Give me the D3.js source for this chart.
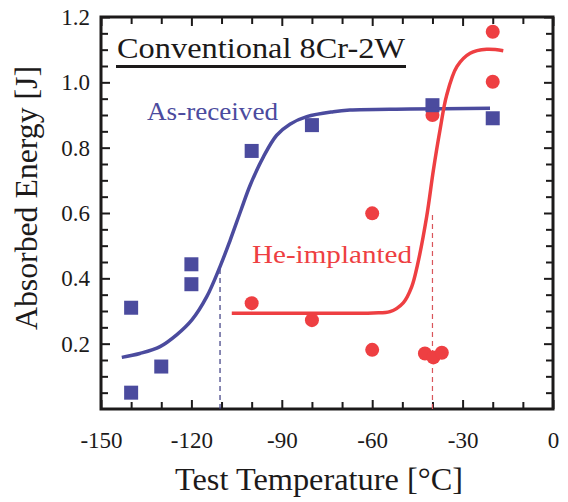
<!DOCTYPE html>
<html>
<head>
<meta charset="utf-8">
<script src="https://cdn.jsdelivr.net/npm/d3@7"></script>
<style>
  html, body { margin: 0; padding: 0; background: #fff; }
  svg { display: block; }
  text { font-family: "Liberation Serif", "Times New Roman", serif; }
</style>
</head>
<body>
<svg id="chart" width="568" height="502"></svg>
<script>
// ---- data ----
const xTickValues = [-150, -140, -130, -120, -110, -100, -90, -80, -70, -60, -50, -40, -30, -20, -10, 0];
const xTickLabels = [-150, -120, -90, -60, -30, 0];
const yTickValues = [0.05, 0.1, 0.15, 0.2, 0.25, 0.3, 0.35, 0.4, 0.45, 0.5, 0.55, 0.6, 0.65, 0.7, 0.75, 0.8, 0.85, 0.9, 0.95, 1.0, 1.05, 1.1, 1.15, 1.2];
const yTickLabels = [0.2, 0.4, 0.6, 0.8, 1.0, 1.2];

// As-received (squares)
const asReceivedTemp   = [-140, -140, -130, -120, -120, -100, -80, -40, -20];
const asReceivedEnergy = [0.31, 0.05, 0.13, 0.443, 0.382, 0.79, 0.869, 0.93, 0.89];

// He-implanted (circles)
const heTemp   = [-100, -80, -60, -60, -42.5, -39.7, -36.9, -40, -20, -20];
const heEnergy = [0.324, 0.272, 0.181, 0.599, 0.170, 0.158, 0.172, 0.90, 1.155, 1.002];

// Fitted curves
const asReceivedCurveT = [-143.1, -137.1, -130.4, -124.9, -119.9, -114.9, -110.5, -107.2, -103.5, -100.5, -96.1, -91.7, -87.3, -81.7, -72.9, -67.4, -47.4, -20.9];
const asReceivedCurveE = [0.158, 0.170, 0.191, 0.227, 0.272, 0.344, 0.436, 0.515, 0.61, 0.685, 0.772, 0.838, 0.872, 0.895, 0.910, 0.915, 0.918, 0.921];
const heCurveT = [-106.6, -80, -59.7, -54.1, -49.7, -46.9, -45.0, -41.9, -39.7, -37.5, -35.3, -31.9, -27.5, -22.0, -16.5];
const heCurveE = [0.293, 0.293, 0.294, 0.298, 0.325, 0.374, 0.44, 0.59, 0.731, 0.854, 0.960, 1.048, 1.089, 1.101, 1.097];

// transition temperatures (dashed markers)
const dbttTemp   = [-110.5, -40];
const dbttEnergy = [0.436, 0.60];

const blue = "#4b4b9e";
const red = "#ee3f42";
const ink = "#1c1a1a";

// ---- drawing ----
const svg = d3.select("#chart");
svg.append("rect").attr("width", 568).attr("height", 502).attr("fill", "#fff");

const x = d3.scaleLinear().domain([-150, 0]).range([101, 553]);
const y = d3.scaleLinear().domain([0, 1.2]).range([409, 17]);

const isMajorX = d => xTickLabels.includes(d);
const isMajorY = d => yTickLabels.some(v => Math.abs(v - d) < 1e-9);

// bottom axis
const gB = svg.append("g").attr("transform", `translate(0,${y(0)})`)
  .call(d3.axisBottom(x).tickValues(xTickValues).tickSizeInner(-7).tickSizeOuter(0).tickPadding(23)
    .tickFormat(d => isMajorX(d) ? String(d) : ""));
gB.selectAll(".tick line").attr("y2", d => isMajorX(d) ? -9 : -7);
// top axis
const gT = svg.append("g").attr("transform", `translate(0,${y(1.2)})`)
  .call(d3.axisTop(x).tickValues(xTickValues).tickSizeInner(-7).tickSizeOuter(0).tickFormat(""));
gT.selectAll(".tick line").attr("y2", d => isMajorX(d) ? 9 : 7);
// left axis
const gL = svg.append("g").attr("transform", `translate(${x(-150)},0)`)
  .call(d3.axisLeft(y).tickValues(yTickValues).tickSizeInner(-7).tickSizeOuter(0).tickPadding(11)
    .tickFormat(d => isMajorY(d) ? d.toFixed(1) : ""));
gL.selectAll(".tick line").attr("x2", d => isMajorY(d) ? 9 : 7);
// right axis
const gR = svg.append("g").attr("transform", `translate(${x(0)},0)`)
  .call(d3.axisRight(y).tickValues(yTickValues).tickSizeInner(-7).tickSizeOuter(0).tickFormat(""));
gR.selectAll(".tick line").attr("x2", d => isMajorY(d) ? -9 : -7);

[gB, gT, gL, gR].forEach(g => {
  g.select(".domain").remove();
  g.selectAll(".tick line").attr("stroke", ink).attr("stroke-width", 2);
  g.selectAll(".tick text").attr("fill", ink).style("font-size", "23px")
    .style("font-family", "'Liberation Serif', serif");
});

// frame
svg.append("rect")
  .attr("x", x(-150)).attr("y", y(1.2))
  .attr("width", x(0) - x(-150)).attr("height", y(0) - y(1.2))
  .attr("fill", "none").attr("stroke", ink).attr("stroke-width", 3);

// dashed transition lines
svg.append("line")
  .attr("x1", x(dbttTemp[0])).attr("x2", x(dbttTemp[0]))
  .attr("y1", y(0)).attr("y2", y(dbttEnergy[0]))
  .attr("stroke", "#3a3a80").attr("stroke-width", 1.2).attr("stroke-dasharray", "5,4");
svg.append("line")
  .attr("x1", x(dbttTemp[1])).attr("x2", x(dbttTemp[1]))
  .attr("y1", y(0)).attr("y2", y(dbttEnergy[1]))
  .attr("stroke", "#d9555a").attr("stroke-width", 1.2).attr("stroke-dasharray", "5,4");

// He-implanted circles
svg.append("g").selectAll("circle")
  .data(heTemp.map((t, i) => [t, heEnergy[i]]))
  .join("circle")
  .attr("cx", d => x(d[0])).attr("cy", d => y(d[1])).attr("r", 7)
  .attr("fill", red);

// As-received squares
svg.append("g").selectAll("rect")
  .data(asReceivedTemp.map((t, i) => [t, asReceivedEnergy[i]]))
  .join("rect")
  .attr("x", d => x(d[0]) - 7).attr("y", d => y(d[1]) - 7)
  .attr("width", 14).attr("height", 14)
  .attr("fill", blue);

const line = d3.line().x(d => x(d[0])).y(d => y(d[1])).curve(d3.curveCatmullRom.alpha(0.5));

svg.append("path")
  .datum(asReceivedCurveT.map((t, i) => [t, asReceivedCurveE[i]]))
  .attr("d", line).attr("fill", "none").attr("stroke", blue).attr("stroke-width", 3.5);

svg.append("path")
  .datum(heCurveT.map((t, i) => [t, heCurveE[i]]))
  .attr("d", line).attr("fill", "none").attr("stroke", red).attr("stroke-width", 3.5);

// annotations
svg.append("text").attr("x", 117).attr("y", 58)
  .attr("textLength", 288).attr("lengthAdjust", "spacingAndGlyphs")
  .style("font-size", "29px").attr("fill", ink).text("Conventional 8Cr-2W");
svg.append("line").attr("x1", 116).attr("x2", 406).attr("y1", 66.5).attr("y2", 66.5)
  .attr("stroke", ink).attr("stroke-width", 3);

svg.append("text").attr("x", 147).attr("y", 120)
  .attr("textLength", 131).attr("lengthAdjust", "spacingAndGlyphs")
  .style("font-size", "25px").attr("fill", blue).text("As-received");
svg.append("text").attr("x", 252).attr("y", 263)
  .attr("textLength", 160).attr("lengthAdjust", "spacingAndGlyphs")
  .style("font-size", "25px").attr("fill", red).text("He-implanted");

// axis titles
svg.append("text").attr("x", 319).attr("y", 490).attr("text-anchor", "middle")
  .attr("textLength", 288).attr("lengthAdjust", "spacingAndGlyphs")
  .style("font-size", "31px").attr("fill", ink).text("Test Temperature [°C]");
svg.append("text").attr("transform", "translate(37,198) rotate(-90)").attr("text-anchor", "middle")
  .attr("textLength", 264).attr("lengthAdjust", "spacingAndGlyphs")
  .style("font-size", "31px").attr("fill", ink).text("Absorbed Energy [J]");
</script>
</body>
</html>
